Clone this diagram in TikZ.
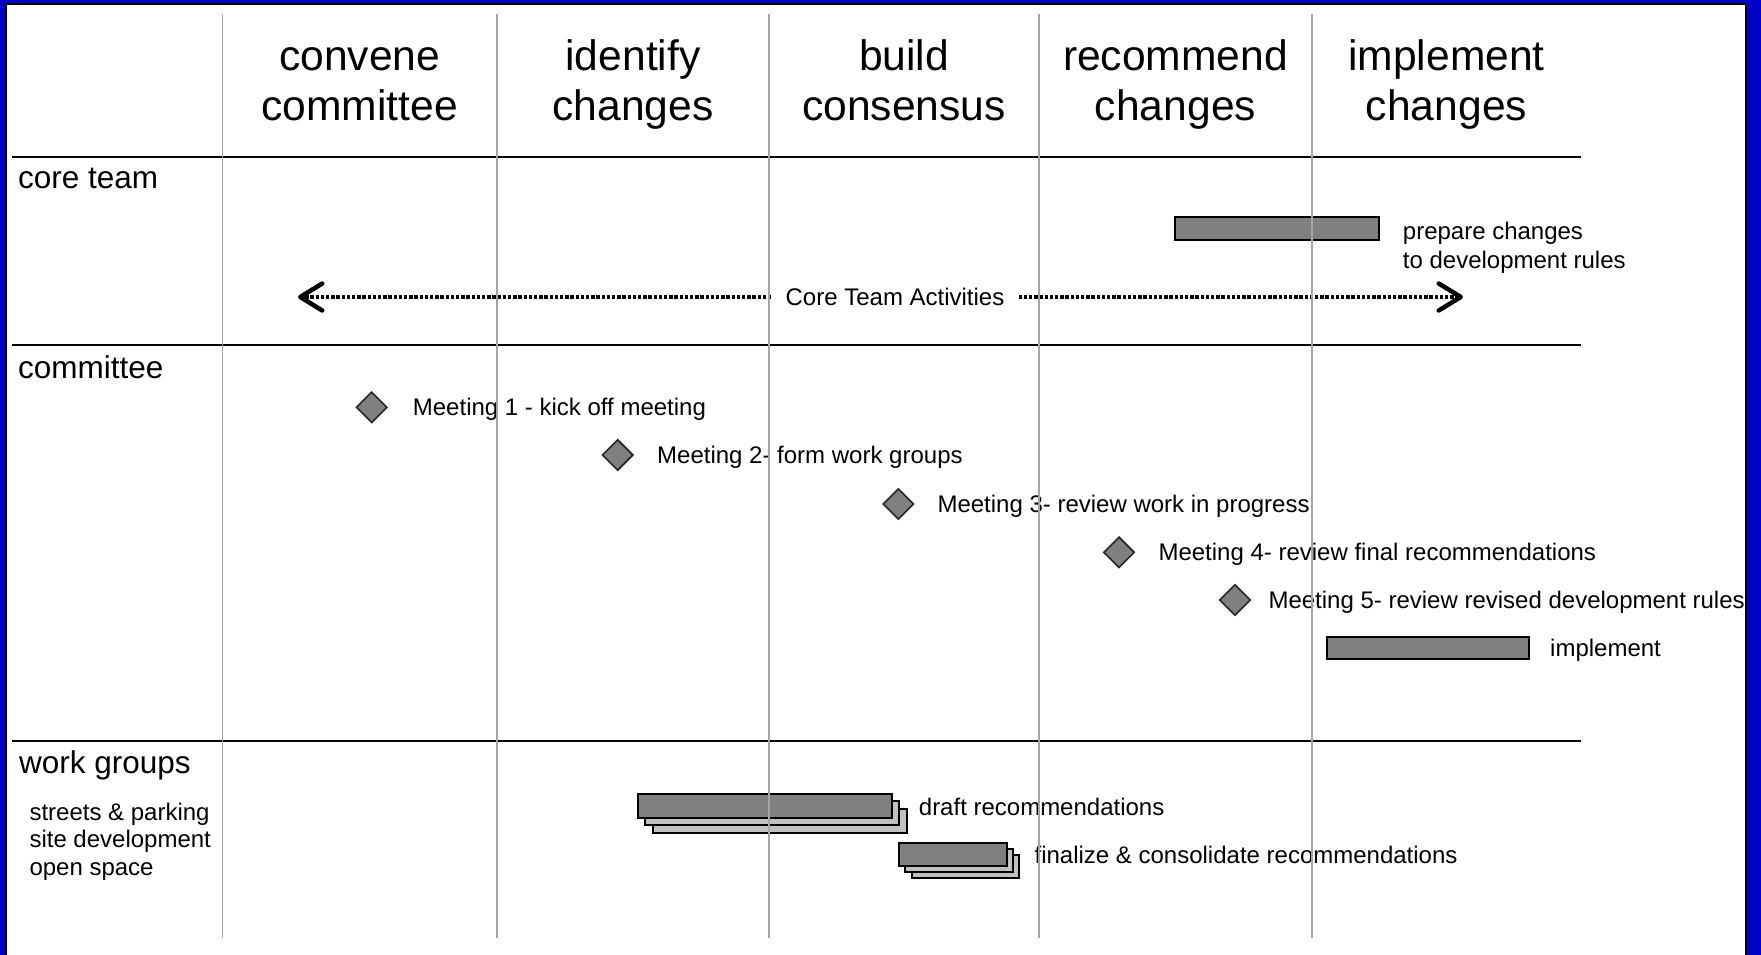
\documentclass[tikz,border=0pt]{standalone}
\usepackage{fontspec}
\setmainfont{Liberation Sans}
\usetikzlibrary{arrows.meta,shapes.geometric}
\definecolor{frameblue}{RGB}{0,0,200}
\definecolor{barfill}{RGB}{128,128,128}
\definecolor{shadefill}{RGB}{192,192,192}
\definecolor{gridgray}{RGB}{165,165,165}

\begin{document}
\begin{tikzpicture}[x=1pt,y=-1pt,
    phase/.style={align=center, inner sep=0pt, font=\fontsize{42.6}{50}\selectfont},
    rowlabel/.style={anchor=base west, inner sep=0pt, font=\fontsize{31.5}{36}\selectfont},
    note/.style={anchor=base west, inner sep=0pt, font=\fontsize{24}{27.5}\selectfont},
    notelist/.style={anchor=north west, align=left, inner sep=0pt},
    milestone/.style={diamond, draw=black!85, line width=1.6pt, fill=barfill,
      minimum width=31pt, minimum height=31pt, inner sep=0pt},
    taskbar/.style={draw, line width=2pt, fill=barfill},
    dotarrow/.style={line width=3.6pt, dash pattern=on 3.4pt off 1.8pt,
      -{Straight Barb[length=22pt,width=27pt,line width=4.5pt,round]}}]
    \useasboundingbox (0,0) rectangle (1761,955);
    % frame
    \fill[frameblue] (0,0) rectangle (1761,955);
    \draw[line width=2pt, fill=white] (6,4.2) rectangle (1746.3,975);

    % phases
    \node[phase] (convene) at (359.7,85.5) {\strut convene\\\strut committee};
    \node[phase] (identify) at (633,85.5) {\strut identify\\\strut changes};
    \node[phase] (build) at (904,85.5) {\strut build\\\strut consensus};
    \node[phase] (recommend) at (1175.5,85.5) {\strut recommend\\\strut changes};
    \node[phase] (implement) at (1446.5,85.5) {\strut implement\\\strut changes};

    % rows
    \foreach \y in {157.3,344.8,741}
      \draw[line width=2pt] (11.7,\y) -- (1581,\y);
    \node[rowlabel] (coreteam) at (18,188.3) {core team};
    \node[rowlabel] (committee) at (18,378.5) {committee};
    \node[rowlabel] (workgroups) at (19,773.3) {work groups};
    \node[notelist, font=\fontsize{24}{27.5}\selectfont] (groups) at (29.3,800.75)
      {\strut streets \& parking\\\strut site development\\\strut open space};

    % core team
    \draw[taskbar] (1175,216.7) rectangle (1379.3,240);
    \node[notelist, font=\fontsize{24}{29}\selectfont] (prepare) at (1402.7,219)
      {\strut prepare changes\\\strut to development rules};
    \node[note, anchor=center, inner xsep=14pt] (cta) at (895,297) {Core Team Activities};
    \coordinate (ctaleft) at (298,297);
    \coordinate (ctaright) at (1463,297);
    \draw[dotarrow] (cta.west) -- (ctaleft);
    \draw[dotarrow] (cta.east) -- (ctaright);

    % committee
    \node[milestone] (m1) at (371.7,407.3) {};
    \node[note] (m1text) at (412.7,415) {Meeting 1 - kick off meeting};
    \node[milestone] (m2) at (617.7,455) {};
    \node[note] (m2text) at (657,463) {Meeting 2- form work groups};
    \node[milestone] (m3) at (898.3,504) {};
    \node[note] (m3text) at (937.3,512) {Meeting 3- review work in progress};
    \node[milestone] (m4) at (1119,552.3) {};
    \node[note] (m4text) at (1158.3,560.3) {Meeting 4- review final recommendations};
    \node[milestone] (m5) at (1235,600) {};
    \node[note] (m5text) at (1268.3,608) {Meeting 5- review revised development rules};
    \draw[taskbar] (1327.3,636.7) rectangle (1529,659);
    \node[note] (impltext) at (1550,656) {implement};

    % work groups
    \foreach \d/\f in {15/shadefill,7/shadefill,0/barfill}
      \draw[line width=2pt, fill=\f] (638.3+\d,794.3+\d) rectangle (891.7+\d,818.3+\d);
    \node[note] (draft) at (918.7,815) {draft recommendations};
    \foreach \d/\f in {12.5/shadefill,6/shadefill,0/barfill}
      \draw[line width=2pt, fill=\f] (899.3+\d,842.7+\d) rectangle (1006.7+\d,865.7+\d);
    \node[note] (finalize) at (1034.4,863) {finalize \& consolidate recommendations};

    % phase dividers
    \foreach \x in {222.5,497,769,1039,1312}
      \draw[gridgray, line width=1.6pt] (\x,14) -- (\x,938);
  \end{tikzpicture}
\end{document}
